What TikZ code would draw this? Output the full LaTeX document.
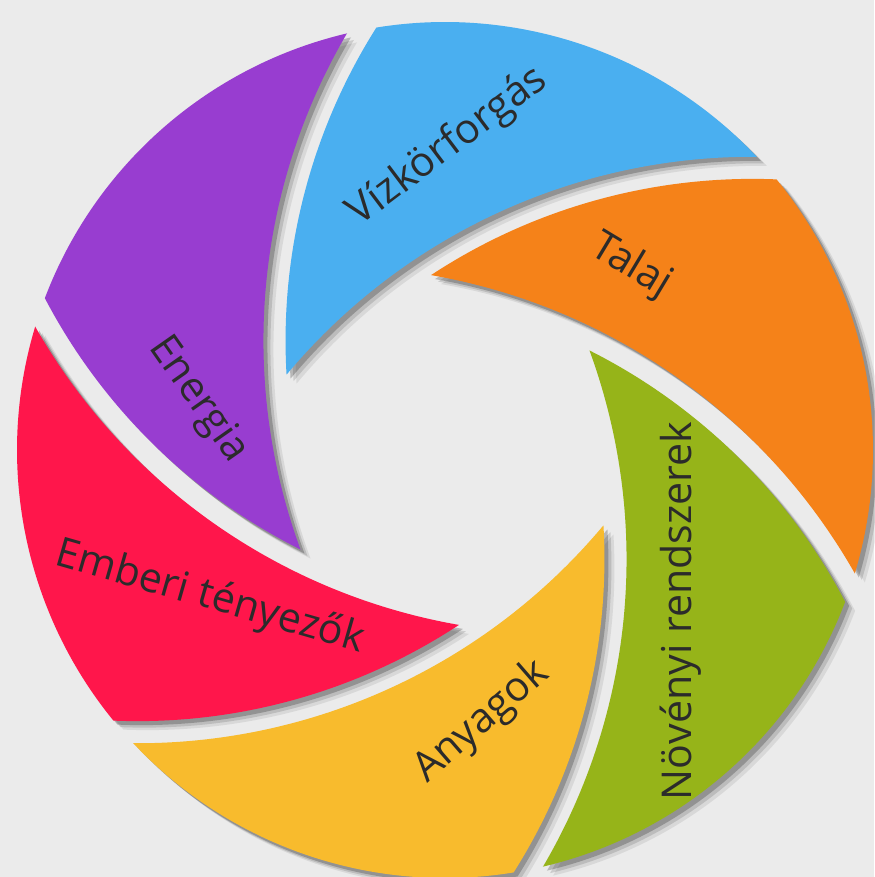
\documentclass[tikz,border=0pt]{standalone}
\usepackage{fontspec}
\setmainfont{Open Sans}
\usetikzlibrary{positioning}

\definecolor{bgGray}{HTML}{EBEBEB}
\definecolor{textGray}{HTML}{2B2B2B}
\definecolor{petalPurple}{HTML}{983DD0}
\definecolor{petalBlue}{HTML}{4AAFF0}
\definecolor{petalOrange}{HTML}{F58219}
\definecolor{petalGreen}{HTML}{96B419}
\definecolor{petalYellow}{HTML}{F8BB2D}
\definecolor{petalRed}{HTML}{FF164B}

% one petal: outer rim, then the two inner arcs
\newcommand{\petalpath}{(0.225:4.28) arc[start angle=0.225, end angle=56.222, radius=4.28]
  arc[start angle=104.64, end angle=140.33, radius=5.85]
  arc[start angle=97.13, end angle=46.57, radius=6.07] -- cycle}

\begin{document}
\begin{tikzpicture}[
				petal/.style={fill=#1,
					preaction={fill=black,opacity=.08,transform canvas={shift={(0.10,-0.09)}}},
					preaction={fill=black,opacity=.13,transform canvas={shift={(0.07,-0.065)}}},
					preaction={fill=black,opacity=.22,transform canvas={shift={(0.04,-0.04)}}}},
				petaltext/.style={text=textGray,inner sep=0pt,font=\fontsize{11.7}{14}\selectfont}
				]
				
				% background
				\useasboundingbox (-4.45,-4.27) rectangle (4.29,4.50);
				\fill[bgGray] (-4.45,-4.27) rectangle (4.29,4.50);
				
				% the petals
				\fill[petal=petalGreen,rotate=-77] \petalpath;
				\fill[petal=petalOrange,rotate=-17] \petalpath;
				\fill[petal=petalBlue,rotate=43] \petalpath;
				\fill[petal=petalPurple,rotate=103] \petalpath;
				\fill[petal=petalRed,rotate=163] \petalpath;
				\fill[petal=petalYellow,rotate=223] \petalpath;
				
				% the labels
				\node[petaltext,rotate=37] (water) at (0.03,3.03) {Vízkörforgás};
				\node[petaltext,rotate=-31] (soil) at (1.86,1.84) {Talaj};
				\node[petaltext,rotate=90] (plants) at (2.36,-1.61) {Növényi rendszerek};
				\node[petaltext,rotate=41] (materials) at (0.37,-2.72) {Anyagok};
				\node[petaltext,rotate=-16] (people) at (-2.35,-1.48) {Emberi tényezők};
				\node[petaltext,rotate=-55] (energy) at (-2.47,0.50) {Energia};
			\end{tikzpicture}
\end{document}
